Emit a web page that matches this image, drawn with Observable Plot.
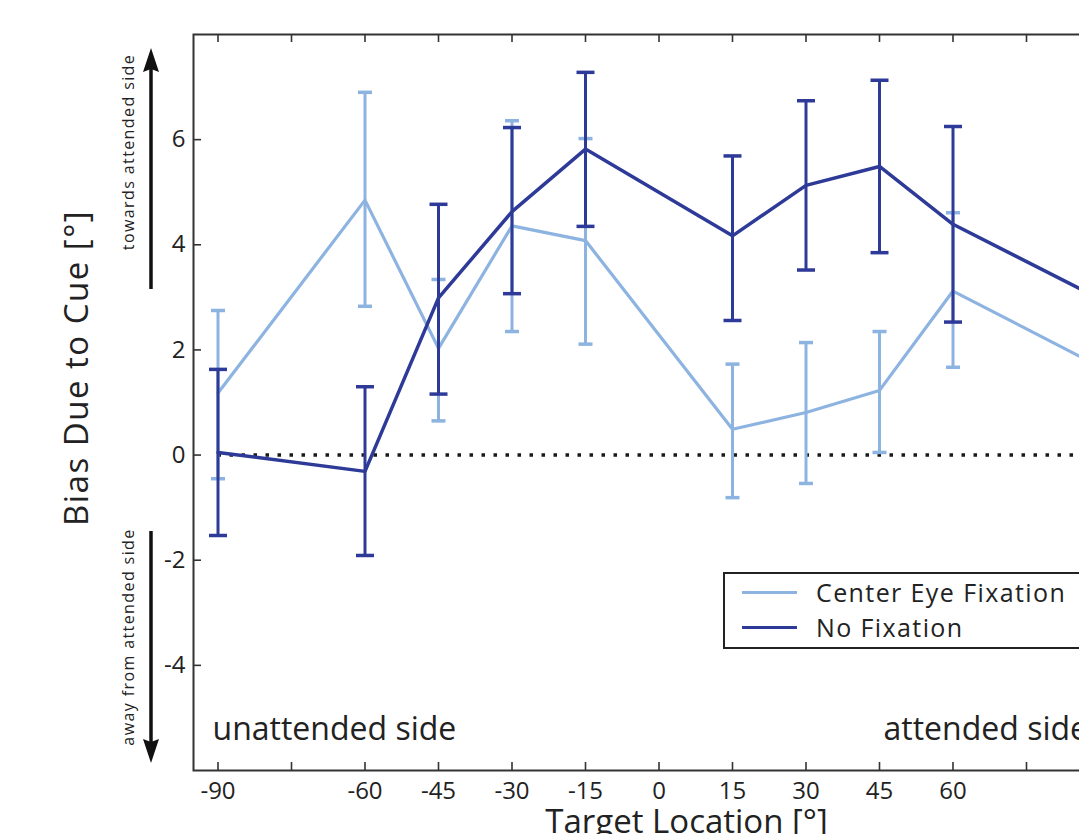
<!DOCTYPE html>
<html>
<head>
<meta charset="utf-8">
<script src="https://cdn.jsdelivr.net/npm/d3@7"></script>
<script src="https://cdn.jsdelivr.net/npm/@observablehq/plot@0.6"></script>
<style>
  html, body { margin: 0; padding: 0; background: #fff; overflow: hidden; width: 1079px; height: 834px; }
  #wrap { position: relative; width: 1079px; height: 834px; overflow: hidden; font-family: "Open Sans", sans-serif; }
  #chart { position: absolute; left: 0; top: 0; width: 1128px; }
  #chart svg { max-width: none !important; width: 1128px !important; height: 834px !important; }
  .legend { position: absolute; left: 723px; top: 572px; width: 400px; height: 73px; border: 2px solid #222; background: #fff; }
  .legend .item { position: absolute; left: 0; display: flex; align-items: center; font-size: 25px; color: #222; white-space: nowrap; letter-spacing: 1.4px; }
  .legend .sw { display: inline-block; width: 55px; height: 3px; margin-left: 17px; margin-right: 19px; }
</style>
</head>
<body>
<div id="wrap">
  <div id="chart"></div>
</div>
<script>
// ---- data ----
const locations   = [-90, -60, -45, -30, -15, 15, 30, 45, 60, 90];
const centerMean  = [1.18, 4.85, 2.03, 4.36, 4.08, 0.49, 0.81, 1.23, 3.12, 1.68];
const centerLow   = [-0.45, 2.83, 0.65, 2.35, 2.11, -0.81, -0.54, 0.05, 1.67, 0.40];
const centerHigh  = [2.75, 6.90, 3.34, 6.36, 6.02, 1.73, 2.14, 2.35, 4.61, 2.96];
const noFixMean   = [0.05, -0.31, 2.99, 4.63, 5.82, 4.17, 5.13, 5.49, 4.39, 2.97];
const noFixLow    = [-1.53, -1.91, 1.16, 3.07, 4.35, 2.56, 3.52, 3.85, 2.53, 1.40];
const noFixHigh   = [1.63, 1.30, 4.77, 6.23, 7.28, 5.69, 6.74, 7.13, 6.25, 4.54];
const seriesNames = ["Center Eye Fixation", "No Fixation"];
const seriesColors = ["#8DB3E0", "#2E3A98"];
const xTicks = [-90, -75, -60, -45, -30, -15, 0, 15, 30, 45, 60, 75, 90];
const xTickLabels = ["-90", "", "-60", "-45", "-30", "-15", "0", "15", "30", "45", "60", "", "90"];
const yTicks = [-4, -2, 0, 2, 4, 6];
const xDomain = [-95, 95];
const yDomain = [-6, 8];
const sideLabels = ["unattended side", "attended side"];
const arrowLabels = ["towards attended side", "away from attended side"];
const xTitle = "Target Location [°]";
const yTitle = "Bias Due to Cue [°]";

// ---- build rows ----
const center = locations.map((x, i) => ({x, y: centerMean[i], lo: centerLow[i], hi: centerHigh[i], s: seriesNames[0]}));
const nofix  = locations.map((x, i) => ({x, y: noFixMean[i], lo: noFixLow[i], hi: noFixHigh[i], s: seriesNames[1]}));

const W = 1128, H = 834, mL = 193, mR = 4, mT = 34, mB = 64;
const plotW = W - mL - mR, plotH = H - mT - mB;

// horizontal cap symbol
const capSymbol = {
  draw(ctx, size) {
    const w = Math.sqrt(size / Math.PI);
    ctx.moveTo(-w, 0);
    ctx.lineTo(w, 0);
  }
};

const tickFont = {fontSize: 24, fill: "#222", letterSpacing: "1.5px"};

const chart = Plot.plot({
  width: W,
  height: H,
  marginLeft: mL,
  marginRight: mR,
  marginTop: mT,
  marginBottom: mB,
  style: {fontFamily: "'Open Sans', sans-serif", background: "transparent", overflow: "visible", maxWidth: "none"},
  x: {domain: xDomain, axis: null},
  y: {domain: yDomain, axis: null},
  marks: [
    // zero reference
    Plot.ruleY([0], {x1: locations[0], x2: locations[locations.length - 1], stroke: "#1a1a1a", strokeWidth: 3.5, strokeDasharray: "3.5,8.5"}),
    // Center Eye Fixation error bars
    Plot.ruleX(center, {x: "x", y1: "lo", y2: "hi", stroke: seriesColors[0], strokeWidth: 3}),
    Plot.dot(center, {x: "x", y: "lo", symbol: capSymbol, r: 7, stroke: seriesColors[0], strokeWidth: 3.5, fill: "none"}),
    Plot.dot(center, {x: "x", y: "hi", symbol: capSymbol, r: 7, stroke: seriesColors[0], strokeWidth: 3.5, fill: "none"}),
    Plot.line(center, {x: "x", y: "y", stroke: seriesColors[0], strokeWidth: 3.2}),
    // No Fixation error bars
    Plot.ruleX(nofix, {x: "x", y1: "lo", y2: "hi", stroke: seriesColors[1], strokeWidth: 3}),
    Plot.dot(nofix, {x: "x", y: "lo", symbol: capSymbol, r: 9, stroke: seriesColors[1], strokeWidth: 3.5, fill: "none"}),
    Plot.dot(nofix, {x: "x", y: "hi", symbol: capSymbol, r: 9, stroke: seriesColors[1], strokeWidth: 3.5, fill: "none"}),
    Plot.line(nofix, {x: "x", y: "y", stroke: seriesColors[1], strokeWidth: 3.5}),
    // frame
    Plot.frame({stroke: "#333", strokeWidth: 2}),
    // inward ticks: bottom, top, left, right
    Plot.tickX(xTicks, {x: d => d, insetTop: plotH - 8, stroke: "#333", strokeWidth: 1.6}),
    Plot.tickX(xTicks, {x: d => d, insetBottom: plotH - 8, stroke: "#333", strokeWidth: 1.6}),
    Plot.tickY(yTicks, {y: d => d, insetRight: plotW - 8, stroke: "#333", strokeWidth: 1.6}),
    Plot.tickY(yTicks, {y: d => d, insetLeft: plotW - 8, stroke: "#333", strokeWidth: 1.6}),
    // tick labels
    Plot.text(xTicks, {x: d => d, frameAnchor: "bottom", dy: 21, text: (d, i) => xTickLabels[i], ...tickFont, lineAnchor: "middle", textAnchor: "middle"}),
    Plot.text(yTicks, {y: d => d, frameAnchor: "left", dx: -8, text: d => String(d), ...tickFont, textAnchor: "end", lineAnchor: "middle"}),
    // side annotations
    Plot.text([sideLabels[0]], {frameAnchor: "bottom-left", dx: 19, dy: -41, text: d => d, fontSize: 32, letterSpacing: "1px", fill: "#222", textAnchor: "start", lineAnchor: "middle"}),
    Plot.text([sideLabels[1]], {frameAnchor: "bottom-left", dx: 690, dy: -41, text: d => d, fontSize: 32, letterSpacing: "1px", fill: "#222", textAnchor: "start", lineAnchor: "middle"}),
    // x axis title
    Plot.text([xTitle], {frameAnchor: "bottom", dx: 686 - (mL + plotW / 2), dy: 52, text: d => d, fontSize: 33, letterSpacing: "1.5px", fill: "#222", lineAnchor: "middle"})
  ]
});
document.getElementById("chart").appendChild(chart);

// ---- y title, arrows and their notes (overlay) ----
const ns = "http://www.w3.org/2000/svg";
const ov = document.createElementNS(ns, "svg");
ov.setAttribute("width", 190);
ov.setAttribute("height", 834);
ov.style.position = "absolute";
ov.style.left = "0px";
ov.style.top = "0px";
ov.innerHTML = `
  <text transform="translate(88,368) rotate(-90)" text-anchor="middle" font-size="33" letter-spacing="1.5" fill="#222" font-family="'Open Sans', sans-serif">${yTitle}</text>
  <line x1="151" y1="289" x2="151" y2="66" stroke="#111" stroke-width="3.5"/>
  <path d="M151,48 L159,72 L151,69 L143,72 Z" fill="#111"/>
  <line x1="151" y1="531" x2="151" y2="744" stroke="#111" stroke-width="3.5"/>
  <path d="M151,763 L159,739 L151,742 L143,739 Z" fill="#111"/>
  <text transform="translate(134,152) rotate(-90)" text-anchor="middle" font-size="16" letter-spacing="1.4" fill="#222" font-family="'Open Sans', sans-serif">${arrowLabels[0]}</text>
  <text transform="translate(134,637) rotate(-90)" text-anchor="middle" font-size="16" letter-spacing="1.4" fill="#222" font-family="'Open Sans', sans-serif">${arrowLabels[1]}</text>
`;
document.getElementById("wrap").appendChild(ov);

// ---- legend ----
const lg = document.createElement("div");
lg.className = "legend";
seriesNames.forEach((name, i) => {
  const it = document.createElement("div");
  it.className = "item";
  it.style.top = (i === 0 ? 3 : 38) + "px";
  it.style.height = "30px";
  const sw = document.createElement("span");
  sw.className = "sw";
  sw.style.background = seriesColors[i];
  const tx = document.createElement("span");
  tx.textContent = name;
  it.appendChild(sw);
  it.appendChild(tx);
  lg.appendChild(it);
});
document.getElementById("wrap").appendChild(lg);
</script>
</body>
</html>
